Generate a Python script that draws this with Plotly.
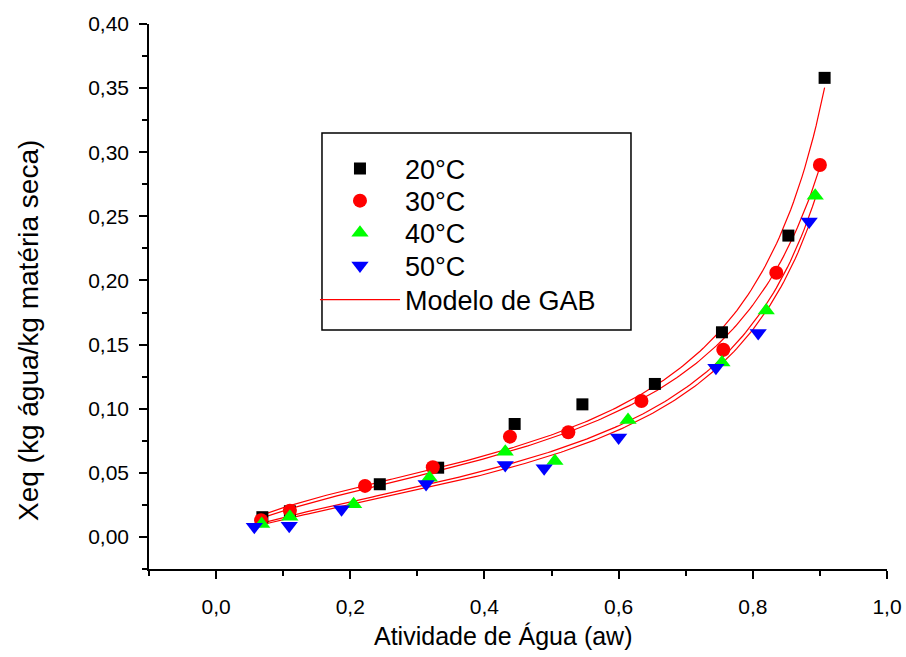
import numpy as np
import plotly.graph_objects as go

# Sorption isotherm data: water activity (aw) and equilibrium moisture (Xeq)
aw_20 = [0.069, 0.110, 0.244, 0.331, 0.445, 0.546, 0.654, 0.754, 0.853, 0.907]
xeq_20 = [0.0154, 0.0200, 0.0411, 0.0540, 0.0881, 0.1034, 0.1193, 0.1596, 0.2350, 0.3580]

aw_30 = [0.067, 0.110, 0.222, 0.323, 0.438, 0.525, 0.634, 0.756, 0.835, 0.900]
xeq_30 = [0.0130, 0.0205, 0.0398, 0.0543, 0.0782, 0.0816, 0.1060, 0.1460, 0.2060, 0.2900]

aw_40 = [0.068, 0.110, 0.205, 0.318, 0.431, 0.505, 0.614, 0.754, 0.820, 0.893]
xeq_40 = [0.0100, 0.0158, 0.0255, 0.0462, 0.0665, 0.0593, 0.0912, 0.1360, 0.1765, 0.2660]

aw_50 = [0.057, 0.109, 0.187, 0.313, 0.431, 0.489, 0.600, 0.745, 0.808, 0.884]
xeq_50 = [0.0080, 0.0087, 0.0216, 0.0412, 0.0561, 0.0535, 0.0775, 0.1320, 0.1590, 0.2459]

temps = ["20°C", "30°C", "40°C", "50°C"]

# GAB model parameters per temperature: Xm, C, K
gab_xm = [0.0479, 0.0497, 0.0448, 0.0441]
gab_c = [7.19, 5.79, 4.27, 3.74]
gab_k = [0.955, 0.926, 0.938, 0.937]

x_ticks = [0.0, 0.2, 0.4, 0.6, 0.8, 1.0]
y_ticks = [0.00, 0.05, 0.10, 0.15, 0.20, 0.25, 0.30, 0.35, 0.40]


def gab(aw, xm, c, k):
    aw = np.asarray(aw)
    return xm * c * k * aw / ((1 - k * aw) * (1 - k * aw + c * k * aw))


FONT = "Liberation Sans, Arial, sans-serif"
series = [
    (aw_20, xeq_20, "square", "#000000", 12),
    (aw_30, xeq_30, "circle", "#ff0000", 14),
    (aw_40, xeq_40, "triangle-up", "#00ff00", 15),
    (aw_50, xeq_50, "triangle-down", "#0000ff", 15),
]

# one legend box per row so the rows can be spaced freely
legend_names = ["legend", "legend2", "legend3", "legend4", "legend5"]
row_y = [0.734, 0.675, 0.616, 0.556, 0.4936]

fig = go.Figure()

# model curves first so the symbols sit on top
for i, (aw, _, _, _, _) in enumerate(series):
    a = np.linspace(min(aw), max(aw), 200)
    fig.add_trace(go.Scatter(
        x=a, y=gab(a, gab_xm[i], gab_c[i], gab_k[i]),
        mode="lines", line=dict(color="#ff0000", width=1.2),
        name="Modelo de GAB", legend=legend_names[4], showlegend=(i == 0),
    ))

for i, (aw, xeq, sym, col, size) in enumerate(series):
    fig.add_trace(go.Scatter(
        x=aw, y=xeq, mode="markers", name=temps[i], legend=legend_names[i],
        marker=dict(symbol=sym, color=col, size=size, line=dict(width=0)),
    ))

axis_common = dict(
    showline=True, linecolor="#000000", linewidth=1.5,
    ticks="outside", tickcolor="#000000", tickwidth=1.5, ticklen=8,
    showgrid=False, zeroline=False, mirror=False, automargin=False,
    tickfont=dict(family=FONT, size=21, color="#000000"),
)

fig.update_xaxes(
    range=[-0.1, 1.0], tickvals=x_ticks, tickformat=".1f",
    minor=dict(dtick=0.1, tick0=0, ticks="outside", ticklen=5,
               tickcolor="#000000", tickwidth=1.5),
    ticklabelstandoff=10,
    **axis_common,
)
fig.update_yaxes(
    range=[-0.025, 0.40], tickvals=y_ticks, tickformat=".2f",
    minor=dict(dtick=0.025, tick0=0, ticks="outside", ticklen=5,
               tickcolor="#000000", tickwidth=1.5),
    ticklabelstandoff=6,
    **axis_common,
)

legend_style = dict(
    x=0.2249, xanchor="left", yanchor="middle",
    bgcolor="rgba(0,0,0,0)", borderwidth=0,
    font=dict(family=FONT, size=27, color="#000000"),
    itemwidth=80,
)

fig.update_layout(
    width=906, height=657,
    margin=dict(l=149, r=19, t=24, b=88, autoexpand=False),
    paper_bgcolor="#ffffff", plot_bgcolor="#ffffff",
    separators=",.",
    showlegend=True,
    shapes=[dict(
        type="rect", xref="paper", yref="paper",
        x0=0.2344, x1=0.6531, y0=0.4385, y1=0.80,
        line=dict(color="#000000", width=1.5), fillcolor="rgba(0,0,0,0)",
        layer="above",
    )],
    annotations=[
        dict(text="Atividade de Água (aw)", xref="paper", yref="paper",
             x=0.48, y=-0.123, xanchor="center", yanchor="middle",
             showarrow=False, font=dict(family=FONT, size=25, color="#000000")),
        dict(text="Xeq (kg água/kg matéria seca)", xref="paper", yref="paper",
             x=-0.163, y=0.438, xanchor="center", yanchor="middle", textangle=-90,
             showarrow=False, font=dict(family=FONT, size=28, color="#000000")),
    ],
)
for name, yv in zip(legend_names, row_y):
    fig.update_layout({name: dict(y=yv, **legend_style)})

fig.write_html("out.html")
